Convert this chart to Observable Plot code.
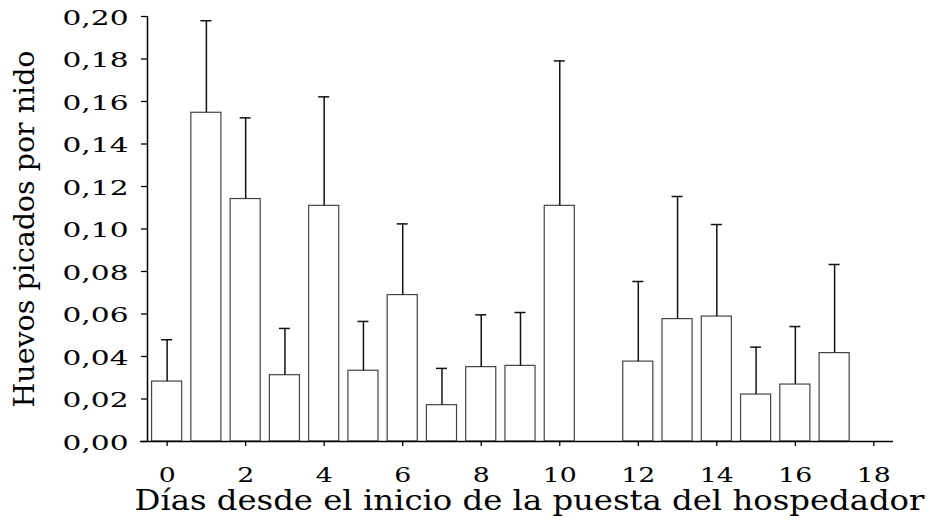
<!DOCTYPE html>
<html>
<head>
<meta charset="utf-8">
<script src="https://cdn.jsdelivr.net/npm/d3@7"></script>
<script src="https://cdn.jsdelivr.net/npm/@observablehq/plot@0.6"></script>
<style>
  html, body { margin: 0; padding: 0; background: #fff; }
</style>
</head>
<body>
<div id="chart"></div>
<script>
// Days since start of host laying (day 11 has no bar)
const days   = [0, 1, 2, 3, 4, 5, 6, 7, 8, 9, 10, 12, 13, 14, 15, 16, 17];
// Mean pecked eggs per nest
const means  = [0.0282, 0.1547, 0.1141, 0.0312, 0.1109, 0.0333, 0.0689, 0.0171, 0.0350, 0.0356, 0.1109, 0.0376, 0.0576, 0.0588, 0.0221, 0.0268, 0.0416];
// Upper end of error bars
const uppers = [0.0479, 0.1980, 0.1523, 0.0532, 0.1622, 0.0565, 0.1024, 0.0344, 0.0596, 0.0607, 0.1791, 0.0753, 0.1153, 0.1021, 0.0444, 0.0541, 0.0833];
const xTicks = [0, 2, 4, 6, 8, 10, 12, 14, 16, 18];
const yTicks = [0, 0.02, 0.04, 0.06, 0.08, 0.10, 0.12, 0.14, 0.16, 0.18, 0.20];
const xTitle = "Días desde el inicio de la puesta del hospedador";
const yTitle = "Huevos picados por nido";

const data = days.map((d, i) => ({day: d, mean: means[i], upper: uppers[i]}));
const fmt = v => v.toFixed(2).replace(".", ",");
const serif = "DejaVu Serif";

const chart = Plot.plot({
  width: 936,
  height: 525,
  marginLeft: 147,
  marginTop: 16,
  marginBottom: 84,
  marginRight: 43,
  x: {domain: [-0.5, 18.5]},
  y: {domain: [0, 0.2]},
  style: {fontFamily: serif, fontSize: "20px", color: "#000", background: "#fff", overflow: "visible"},
  marks: [
    Plot.rectY(data, {x1: d => d.day - 0.383, x2: d => d.day + 0.383, y1: 0, y2: "mean", fill: "white", stroke: "#444", strokeWidth: 1.2}),
    Plot.ruleX(data, {x: "day", y1: "mean", y2: "upper", stroke: "#111", strokeWidth: 1.5}),
    Plot.ruleY(data, {y: "upper", x1: d => d.day - 0.14, x2: d => d.day + 0.14, stroke: "#111", strokeWidth: 1.5}),
    Plot.ruleY([0], {x1: -0.68, x2: 18.5, stroke: "#000", strokeWidth: 1.5}),
    Plot.ruleX([-0.5], {y1: 0, y2: 0.2, stroke: "#000", strokeWidth: 1.5}),
    Plot.axisY({ticks: yTicks, tickFormat: fmt, tickSize: 6, tickPadding: 13, strokeWidth: 1.3, label: null, fill: "#000", fontSize: 20, fontFamily: serif}),
    Plot.axisX({ticks: xTicks, tickFormat: d => String(d), tickSize: 5, tickPadding: 21, strokeWidth: 1.3, label: null, fill: "#000", fontSize: 20, fontFamily: serif}),
    Plot.text([xTitle], {frameAnchor: "bottom", dy: 60, dx: 9, fontSize: 27, fontFamily: serif, lineAnchor: "middle", textAnchor: "middle", fill: "#000"}),
    Plot.text([yTitle], {frameAnchor: "left", rotate: -90, dx: -122, fontSize: 27, fontFamily: serif, lineAnchor: "middle", textAnchor: "middle", fill: "#000"})
  ]
});
document.getElementById("chart").appendChild(chart);

// Widen the glyphs to match the broad serif face of the original
const svg = d3.select(chart);
const yLabels = svg.select('g[aria-label="y-axis tick label"]');
yLabels.attr("transform", (yLabels.attr("transform") || "") + " translate(0,2)");
yLabels.selectAll("text")
  .attr("textLength", function() { return this.textContent.length * 16.5; })
  .attr("lengthAdjust", "spacingAndGlyphs");
svg.selectAll('g[aria-label="x-axis tick label"] text')
  .attr("textLength", function() { return this.textContent.length * 17; })
  .attr("lengthAdjust", "spacingAndGlyphs");
svg.selectAll("text").each(function() {
  if (this.textContent === xTitle) d3.select(this).attr("textLength", 790).attr("lengthAdjust", "spacingAndGlyphs");
  if (this.textContent === yTitle) d3.select(this).attr("textLength", 357).attr("lengthAdjust", "spacingAndGlyphs");
});
</script>
</body>
</html>
